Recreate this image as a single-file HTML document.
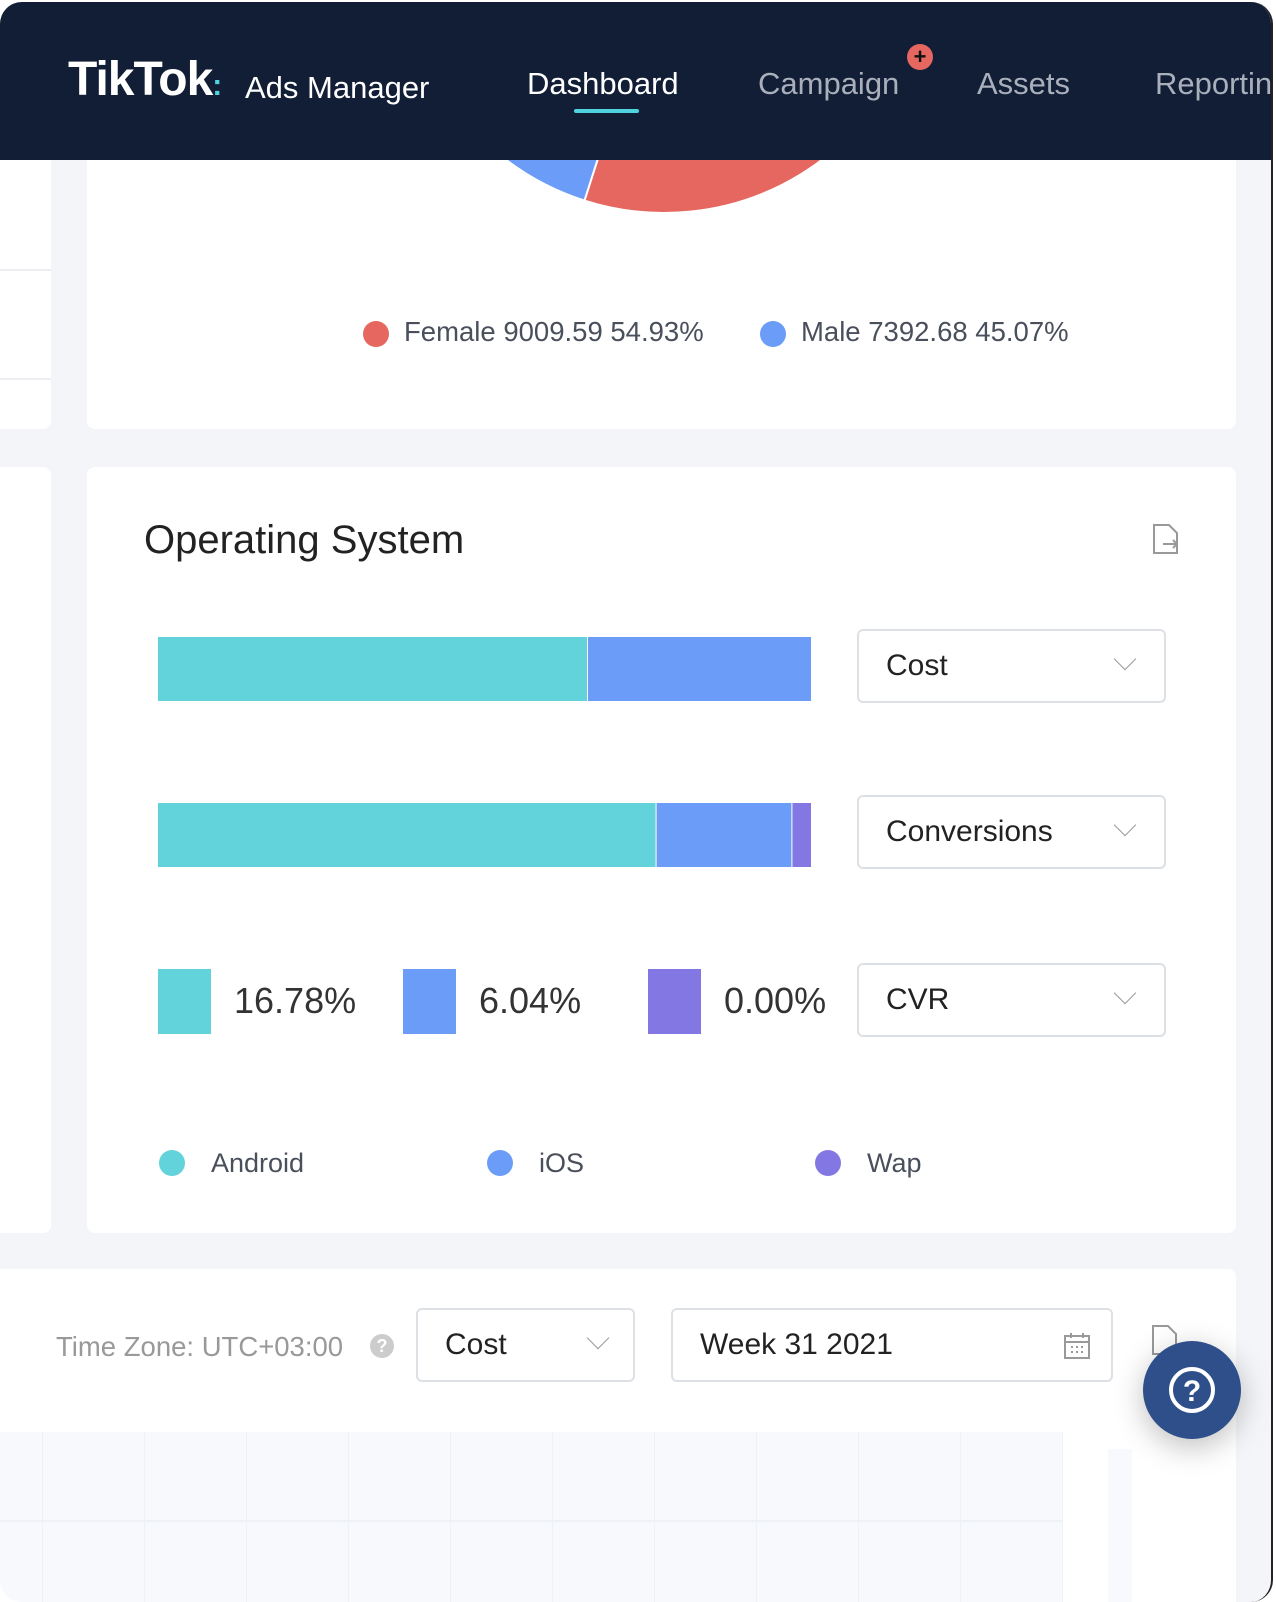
<!DOCTYPE html>
<html><head><meta charset="utf-8">
<style>
*{margin:0;padding:0;box-sizing:border-box}
body{width:1276px;height:1602px;background:#fff;font-family:"Liberation Sans",sans-serif;overflow:hidden;position:relative}
#frame{position:absolute;left:0;top:2px;width:1273px;height:1600px;background:#f4f5f8;border-radius:22px;overflow:hidden;border-right:2px solid #222}
.abs{position:absolute}
.card{position:absolute;background:#fff;border-radius:8px}
.sel{position:absolute;border:2px solid #dde0e5;border-radius:6px;background:#fff;color:#222;font-size:30px}
.sel span{position:absolute;left:27px;top:50%;transform:translateY(-50%)}
.chev{position:absolute;width:16px;height:16px;border-right:1.5px solid #999;border-bottom:1.5px solid #999;transform:rotate(45deg)}
</style></head><body>
<div id="frame">
  <div class="card" style="left:-10px;top:150px;width:61px;height:277px">
    <div class="abs" style="left:0;top:117px;width:61px;height:2px;background:#eceef2"></div>
    <div class="abs" style="left:0;top:226px;width:61px;height:2px;background:#eceef2"></div>
  </div>
  <div class="card" style="left:87px;top:100px;width:1149px;height:327px;overflow:hidden">
    <svg id="pie" class="abs" style="left:-87px;top:-100px" width="1276" height="430"></svg>
    <div class="abs" style="left:276px;top:219px;width:26px;height:26px;border-radius:50%;background:#e5675f"></div>
    <div class="abs" style="left:317px;top:214px;font-size:27.5px;color:#4a4f5c">Female 9009.59 54.93%</div>
    <div class="abs" style="left:673px;top:219px;width:26px;height:26px;border-radius:50%;background:#6b9cf7"></div>
    <div class="abs" style="left:714px;top:214px;font-size:27.5px;color:#4a4f5c">Male 7392.68 45.07%</div>
  </div>
  <div class="card" style="left:-10px;top:465px;width:61px;height:766px"></div>
  <div class="card" style="left:87px;top:465px;width:1149px;height:766px">
    <div class="abs" style="left:57px;top:51px;font-size:40px;color:#222">Operating System</div>
    <svg class="abs" style="left:1064px;top:56px" width="30" height="34" viewBox="0 0 30 34"><path d="M3 2h15l8 8v20H3z" fill="none" stroke="#999" stroke-width="2"/><path d="M12 21h14M22 17l4 4-4 4" fill="none" stroke="#999" stroke-width="2"/></svg>
    <svg id="bars" class="abs" style="left:0;top:0" width="760" height="760"></svg>
    <div class="sel" style="left:770px;top:162px;width:309px;height:74px"><span>Cost</span><i class="chev" style="left:258px;top:20px"></i></div>
    <div class="sel" style="left:770px;top:328px;width:309px;height:74px"><span>Conversions</span><i class="chev" style="left:258px;top:20px"></i></div>
    <div class="sel" style="left:770px;top:496px;width:309px;height:74px"><span>CVR</span><i class="chev" style="left:258px;top:20px"></i></div>
    <div id="legend"></div>
  </div>
  <div class="card" style="left:-10px;top:1267px;width:1246px;height:340px">
    <div class="abs" style="left:66px;top:62px;font-size:27.5px;color:#999">Time Zone: UTC+03:00</div>
    <div class="abs" style="left:380px;top:65px;width:24px;height:24px;border-radius:50%;background:#ccc;color:#fff;font-size:18px;font-weight:bold;text-align:center;line-height:24px">?</div>
    <div class="sel" style="left:426px;top:39px;width:219px;height:74px"><span>Cost</span><i class="chev" style="left:172px;top:20px"></i></div>
    <div class="sel" style="left:681px;top:39px;width:442px;height:74px"><span>Week 31 2021</span>
      <svg class="abs" style="left:390px;top:22px" width="28" height="28" viewBox="0 0 28 28"><rect x="2" y="4" width="24" height="22" fill="none" stroke="#999" stroke-width="2"/><path d="M2 10h24M8 1v5M20 1v5" stroke="#999" stroke-width="2"/><path d="M8 15h2M13 15h2M18 15h2M8 20h2M13 20h2M18 20h2" stroke="#999" stroke-width="2"/></svg></div>
    <svg class="abs" style="left:1160px;top:55px" width="30" height="34" viewBox="0 0 30 34"><path d="M3 2h15l8 8v20H3z" fill="none" stroke="#999" stroke-width="2"/></svg>
    <div class="abs" style="left:0;top:163px;width:1072px;height:177px;background:#f7f9fc" id="grid"></div>
    <div class="abs" style="left:1118px;top:180px;width:24px;height:160px;background:#f7f9fc"></div>
  </div>
  <div class="card" style="left:0;top:-2px;width:1276px;height:160px;background:#111e36;border-radius:0">
    <div class="abs" style="left:68px;top:52px;font-size:48px;font-weight:bold;color:#fff;letter-spacing:-1px">TikTok<span style="color:#4fd3de;font-size:30px">:</span></div>
    <div class="abs" style="left:245px;top:70px;font-size:31px;color:#fff">Ads Manager</div>
    <div class="abs" style="left:527px;top:66px;font-size:31px;color:#fff">Dashboard</div>
    <div class="abs" style="left:574px;top:109px;width:65px;height:4px;border-radius:2px;background:#4fd3de"></div>
    <div class="abs" style="left:758px;top:66px;font-size:31px;color:#a9afbb">Campaign</div>
    <div class="abs" style="left:907px;top:44px;width:26px;height:26px;border-radius:50%;background:#e5675f;color:#111;font-size:22px;font-weight:bold;text-align:center;line-height:25px">+</div>
    <div class="abs" style="left:977px;top:66px;font-size:31px;color:#a9afbb">Assets</div>
    <div class="abs" style="left:1155px;top:66px;font-size:31px;color:#a9afbb;white-space:nowrap">Reporting</div>
  </div>
  <div class="abs" style="left:1143px;top:1339px;width:98px;height:98px;border-radius:50%;background:#2f4f8a;box-shadow:0 8px 30px rgba(0,0,0,.25)">
    <svg width="98" height="98" viewBox="0 0 98 98"><circle cx="49" cy="49" r="21" fill="none" stroke="#fff" stroke-width="4"/><text x="49" y="60" text-anchor="middle" font-size="30" font-weight="bold" fill="#fff" font-family="Liberation Sans">?</text></svg>
  </div>
</div>
<script>
const genderLabels=["Female","Male"];
const genderValues=[9009.59,7392.68];
const osNames=["Android","iOS","Wap"];
const costShare=[65.7,34.3,0];
const convShare=[76.2,20.8,3.0];
const cvrValues=["16.78%","6.04%","0.00%"];
const osColors=["#62d3da","#6b9cf7","#8378e3"];
const NS="http://www.w3.org/2000/svg";
(function(){
  const svg=document.getElementById('pie');
  const cx=664,cy=-50,r=261,cols=["#e5675f","#6b9cf7"];
  const tot=genderValues.reduce((a,b)=>a+b,0);let a0=0;
  genderValues.forEach((v,i)=>{
    const a1=a0+v/tot*2*Math.PI;
    const p=(a)=>[cx+r*Math.sin(a),cy-r*Math.cos(a)];
    const [x0,y0]=p(a0),[x1,y1]=p(a1);
    const path=document.createElementNS(NS,'path');
    path.setAttribute('d',`M${cx},${cy}L${x0},${y0}A${r},${r} 0 ${a1-a0>Math.PI?1:0} 1 ${x1},${y1}Z`);
    path.setAttribute('fill',cols[i]);path.setAttribute('stroke','#fff');path.setAttribute('stroke-width','2');
    
    
    svg.appendChild(path);a0=a1;
  });
})();
(function(){
  const svg=document.getElementById('bars');
  const x0=71,w=653,h=64;
  const xs=v=>v/100*w;
  [[costShare,170,'cost'],[convShare,336,'conversions']].forEach(([vals,y,nm])=>{
    let acc=0;
    vals.forEach((v,i)=>{
      if(v<=0){return;}
      const rect=document.createElementNS(NS,'rect');
      rect.setAttribute('x',x0+xs(acc)+(acc>0?1:0));rect.setAttribute('y',y);
      rect.setAttribute('width',Math.max(xs(v)-(acc>0?1:0),1));rect.setAttribute('height',h);
      rect.setAttribute('fill',osColors[i]);
      
      
      svg.appendChild(rect);acc+=v;
    });
  });
  const leg=document.getElementById('legend');
  cvrValues.forEach((t,i)=>{
    const sw=document.createElement('div');
    sw.className='abs';sw.style.cssText=`left:${71+i*245}px;top:502px;width:53px;height:65px;background:${osColors[i]}`;
    
    
    leg.appendChild(sw);
    const tx=document.createElement('div');
    tx.className='abs';tx.style.cssText=`left:${147+i*245}px;top:513px;font-size:36px;color:#333`;
    tx.textContent=t;
    
    
    leg.appendChild(tx);
    const d=document.createElement('div');
    d.className='abs';d.style.cssText=`left:${72+i*328}px;top:683px;width:26px;height:26px;border-radius:50%;background:${osColors[i]}`;
    
    
    leg.appendChild(d);
    const l=document.createElement('div');
    l.className='abs';l.style.cssText=`left:${124+i*328}px;top:681px;font-size:27px;color:#4a4f5c`;
    l.textContent=osNames[i];
    
    
    leg.appendChild(l);
  });
  const g=document.getElementById('grid');
  for(let i=0;i<11;i++){const v=document.createElement('div');v.className='abs';v.style.cssText=`left:${52+i*102}px;top:0;width:1px;height:177px;background:#eef1f5`;g.appendChild(v);}
  const hz=document.createElement('div');hz.className='abs';hz.style.cssText='left:0;top:88px;width:1072px;height:2px;background:#eef1f5';g.appendChild(hz);
})();
</script>
</body></html>
